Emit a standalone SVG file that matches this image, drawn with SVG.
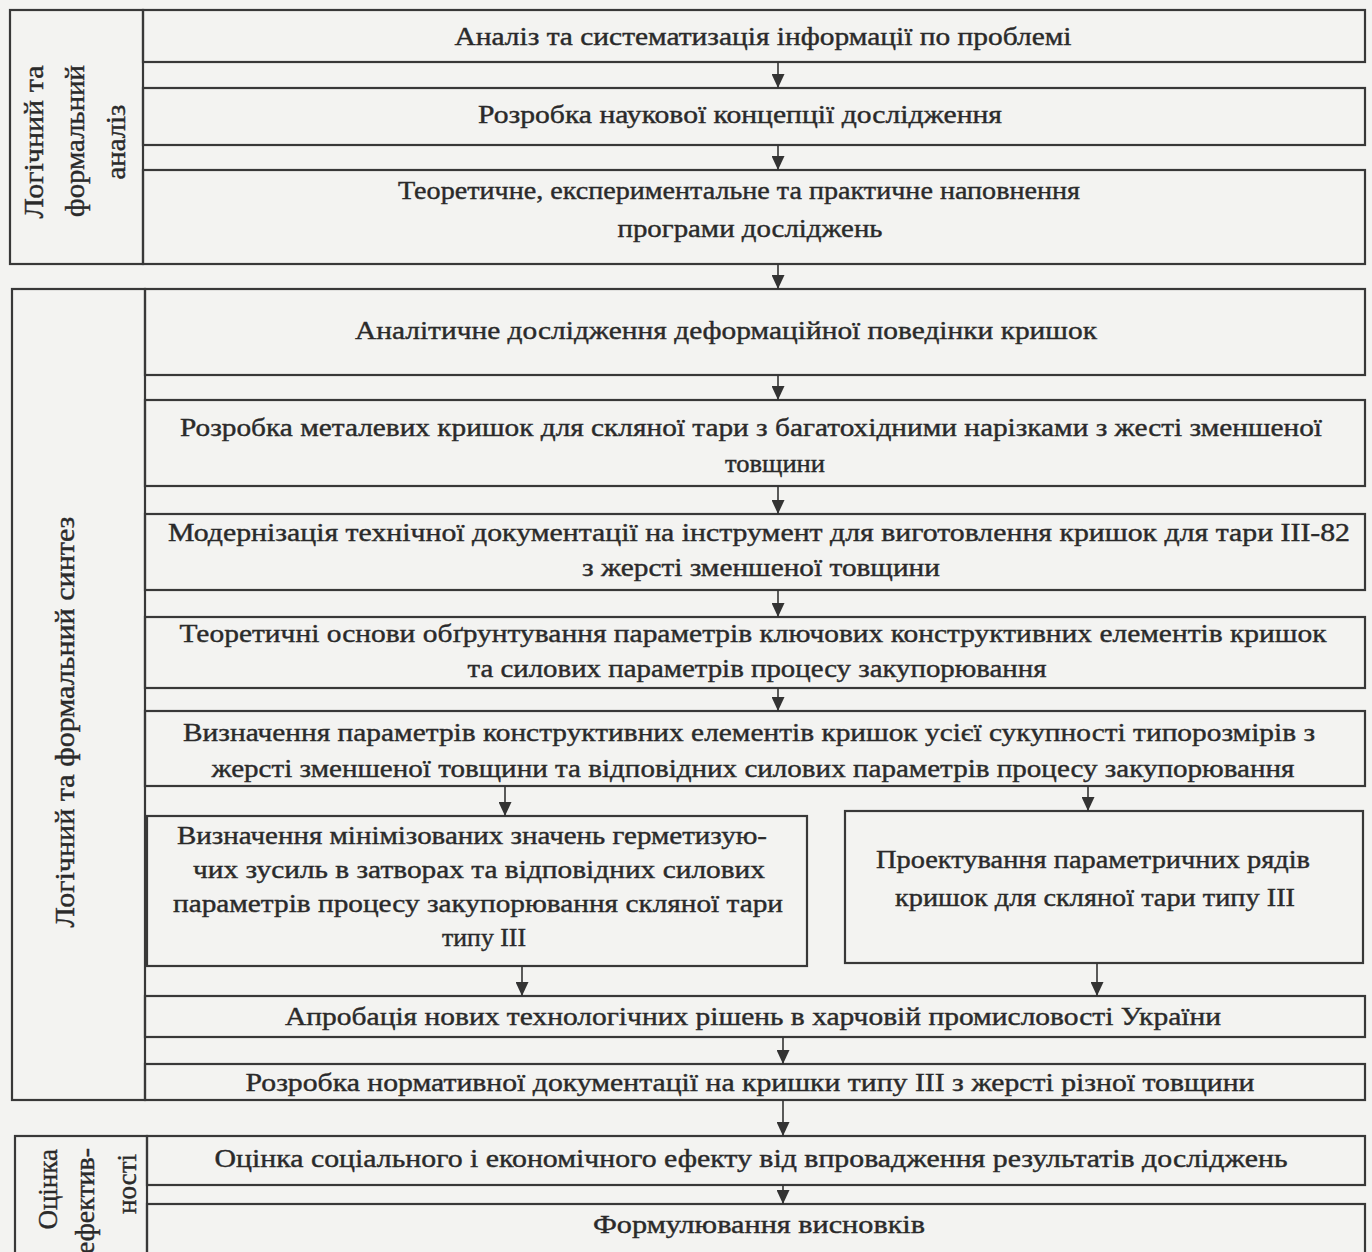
<svg xmlns="http://www.w3.org/2000/svg" width="1372" height="1252" viewBox="0 0 1372 1252">
<defs>
<marker id="ah" markerUnits="userSpaceOnUse" markerWidth="14" markerHeight="13" refX="14" refY="6.5" orient="auto">
<path d="M0,0 L14,6.5 L0,13 z" fill="#333"/>
</marker>
<style>
.bx{fill:none;stroke:#383838;stroke-width:2.2}
.t{font-family:"Liberation Serif","Times New Roman",serif;font-size:25px;fill:#2a2a2a;stroke:#2a2a2a;stroke-width:0.4;text-anchor:middle}
.lb{font-family:"Liberation Serif","Times New Roman",serif;font-size:27px;fill:#2a2a2a;stroke:#2a2a2a;stroke-width:0.4}
.cn{stroke:#333;stroke-width:1.6;fill:none;marker-end:url(#ah)}
</style>
</defs>
<rect width="1372" height="1252" fill="#f3f3f1"/>

<g id="group-analysis-label">
<rect class="bx" x="10" y="10" width="133" height="254"/>
<text class="lb" text-anchor="middle" textLength="153" lengthAdjust="spacingAndGlyphs" transform="translate(43,142) rotate(-90)">Логічний та</text>
<text class="lb" text-anchor="middle" textLength="152" lengthAdjust="spacingAndGlyphs" transform="translate(84,141) rotate(-90)">формальний</text>
<text class="lb" text-anchor="middle" textLength="75" lengthAdjust="spacingAndGlyphs" transform="translate(125,142) rotate(-90)">аналіз</text>
</g>
<g id="node-a1">
<rect class="bx" x="143" y="10" width="1222" height="52"/>
<text class="t" x="763" y="45" textLength="617" lengthAdjust="spacingAndGlyphs">Аналіз та систематизація інформації по проблемі</text>
</g>
<g id="node-a2">
<rect class="bx" x="143" y="88" width="1222" height="57"/>
<text class="t" x="740" y="123" textLength="524" lengthAdjust="spacingAndGlyphs">Розробка наукової концепції дослідження</text>
</g>
<g id="node-a3">
<rect class="bx" x="143" y="170" width="1222" height="94"/>
<text class="t" x="739" y="199" textLength="682" lengthAdjust="spacingAndGlyphs">Теоретичне, експериментальне та практичне наповнення</text>
<text class="t" x="750" y="237" textLength="265" lengthAdjust="spacingAndGlyphs">програми досліджень</text>
</g>

<g id="group-synthesis-label">
<rect class="bx" x="12" y="289" width="133" height="811"/>
<text class="lb" text-anchor="middle" textLength="411" lengthAdjust="spacingAndGlyphs" transform="translate(74,722) rotate(-90)">Логічний та формальний синтез</text>
</g>
<g id="node-b1">
<rect class="bx" x="145" y="289" width="1220" height="86"/>
<text class="t" x="726" y="339" textLength="742" lengthAdjust="spacingAndGlyphs">Аналітичне дослідження деформаційної поведінки кришок</text>
</g>
<g id="node-b2">
<rect class="bx" x="145" y="400" width="1220" height="86"/>
<text class="t" x="751" y="436" textLength="1142" lengthAdjust="spacingAndGlyphs">Розробка металевих кришок для скляної тари з багатохідними нарізками з жесті зменшеної</text>
<text class="t" x="775" y="472" textLength="100" lengthAdjust="spacingAndGlyphs">товщини</text>
</g>
<g id="node-b3">
<rect class="bx" x="145" y="514" width="1220" height="76"/>
<text class="t" x="759" y="541" textLength="1182" lengthAdjust="spacingAndGlyphs">Модернізація технічної документації на інструмент для виготовлення кришок для тари III-82</text>
<text class="t" x="761" y="576" textLength="358" lengthAdjust="spacingAndGlyphs">з жерсті зменшеної товщини</text>
</g>
<g id="node-b4">
<rect class="bx" x="145" y="617" width="1220" height="71"/>
<text class="t" x="753" y="642" textLength="1147" lengthAdjust="spacingAndGlyphs">Теоретичні основи обґрунтування параметрів ключових конструктивних елементів кришок</text>
<text class="t" x="757" y="677" textLength="579" lengthAdjust="spacingAndGlyphs">та силових параметрів процесу закупорювання</text>
</g>
<g id="node-b5">
<rect class="bx" x="145" y="711" width="1220" height="75"/>
<text class="t" x="749" y="741" textLength="1132" lengthAdjust="spacingAndGlyphs">Визначення параметрів конструктивних елементів кришок усієї сукупності типорозмірів з</text>
<text class="t" x="753" y="777" textLength="1083" lengthAdjust="spacingAndGlyphs">жерсті зменшеної товщини та відповідних силових параметрів процесу закупорювання</text>
</g>
<g id="node-c-left">
<rect class="bx" x="147" y="816" width="660" height="150"/>
<text class="t" x="472" y="844" textLength="590" lengthAdjust="spacingAndGlyphs">Визначення мінімізованих значень герметизую-</text>
<text class="t" x="479" y="878" textLength="572" lengthAdjust="spacingAndGlyphs">чих зусиль в затворах та відповідних силових</text>
<text class="t" x="478" y="912" textLength="610" lengthAdjust="spacingAndGlyphs">параметрів процесу закупорювання скляної тари</text>
<text class="t" x="484" y="946" textLength="84" lengthAdjust="spacingAndGlyphs">типу III</text>
</g>
<g id="node-c-right">
<rect class="bx" x="845" y="811" width="518" height="152"/>
<text class="t" x="1093" y="868" textLength="434" lengthAdjust="spacingAndGlyphs">Проектування параметричних рядів</text>
<text class="t" x="1095" y="906" textLength="400" lengthAdjust="spacingAndGlyphs">кришок для скляної тари типу III</text>
</g>
<g id="node-d1">
<rect class="bx" x="145" y="996" width="1220" height="41"/>
<text class="t" x="753" y="1025" textLength="936" lengthAdjust="spacingAndGlyphs">Апробація нових технологічних рішень в харчовій промисловості України</text>
</g>
<g id="node-d2">
<rect class="bx" x="145" y="1064" width="1220" height="36"/>
<text class="t" x="750" y="1091" textLength="1009" lengthAdjust="spacingAndGlyphs">Розробка нормативної документації на кришки типу III з жерсті різної товщини</text>
</g>

<g id="group-evaluation-label">
<rect class="bx" x="15" y="1136" width="132" height="140"/>
<text class="lb" text-anchor="end" transform="translate(57,1149) rotate(-90)">Оцінка</text>
<text class="lb" text-anchor="end" textLength="106" lengthAdjust="spacingAndGlyphs" transform="translate(94,1148) rotate(-90)">ефектив-</text>
<text class="lb" text-anchor="middle" transform="translate(136,1184) rotate(-90)">ності</text>
</g>
<g id="node-e1">
<rect class="bx" x="147" y="1136" width="1218" height="49"/>
<text class="t" x="751" y="1167" textLength="1073" lengthAdjust="spacingAndGlyphs">Оцінка соціального і економічного ефекту від впровадження результатів досліджень</text>
</g>
<g id="node-e2">
<rect class="bx" x="147" y="1204" width="1218" height="70"/>
<text class="t" x="759" y="1233" textLength="332" lengthAdjust="spacingAndGlyphs">Формулювання висновків</text>
</g>

<g id="connectors">
<line class="cn" x1="778" y1="62" x2="778" y2="88"/>
<line class="cn" x1="778" y1="145" x2="778" y2="170"/>
<line class="cn" x1="778" y1="264" x2="778" y2="289"/>
<line class="cn" x1="778" y1="375" x2="778" y2="400"/>
<line class="cn" x1="778" y1="486" x2="778" y2="514"/>
<line class="cn" x1="778" y1="590" x2="778" y2="617"/>
<line class="cn" x1="778" y1="688" x2="778" y2="711"/>
<line class="cn" x1="505" y1="786" x2="505" y2="816"/>
<line class="cn" x1="1088" y1="786" x2="1088" y2="811"/>
<line class="cn" x1="522" y1="966" x2="522" y2="996"/>
<line class="cn" x1="1097" y1="963" x2="1097" y2="996"/>
<line class="cn" x1="783" y1="1037" x2="783" y2="1064"/>
<line class="cn" x1="783" y1="1100" x2="783" y2="1136"/>
<line class="cn" x1="783" y1="1185" x2="783" y2="1204"/>
</g>
</svg>
